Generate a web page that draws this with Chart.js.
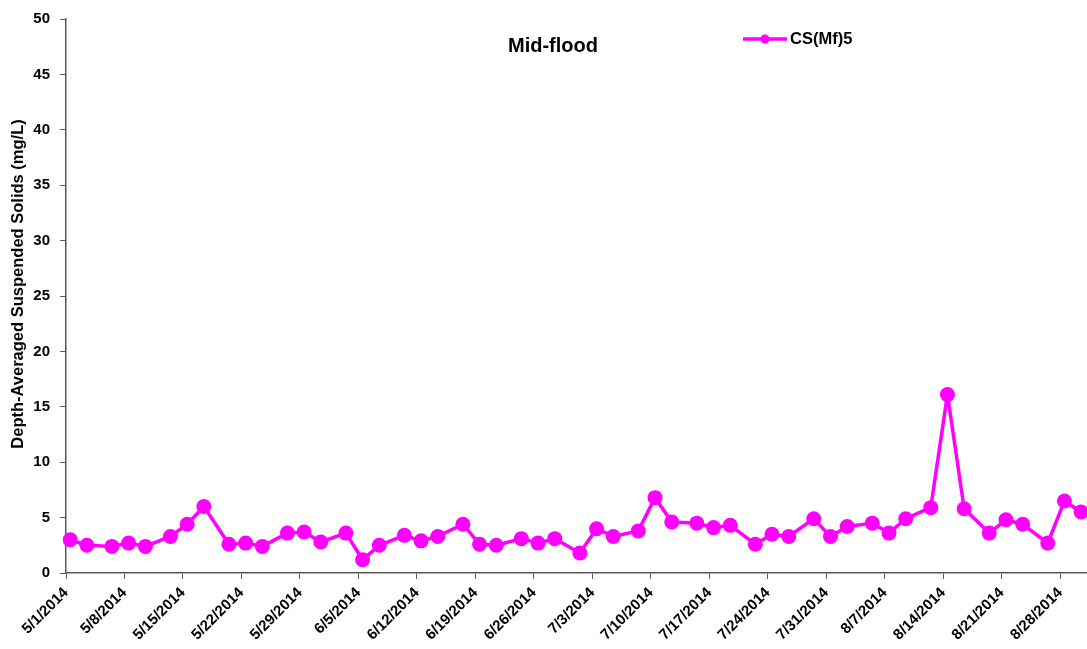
<!DOCTYPE html>
<html lang="en">
<head>
    <meta charset="UTF-8">
    <title>Mid-flood CS(Mf)5</title>
    <script src="https://cdn.jsdelivr.net/npm/chart.js"></script>
    <style>
        html, body { margin: 0; padding: 0; background: #fff; }
        #wrap { width: 1087px; height: 649px; position: relative; }
    </style>
</head>
<body>
<div id="wrap"><canvas id="tssChart"></canvas></div>
<script>
    // sampling dates and depth-averaged TSS (mg/L), station CS(Mf)5, mid-flood
    const sampleDates = [
        '5/1/2014', '5/3/2014', '5/6/2014', '5/8/2014', '5/10/2014', '5/13/2014', '5/15/2014', '5/17/2014',
        '5/20/2014', '5/22/2014', '5/24/2014', '5/27/2014', '5/29/2014', '5/31/2014', '6/3/2014', '6/5/2014',
        '6/7/2014', '6/10/2014', '6/12/2014', '6/14/2014', '6/17/2014', '6/19/2014', '6/21/2014', '6/24/2014',
        '6/26/2014', '6/28/2014', '7/1/2014', '7/3/2014', '7/5/2014', '7/8/2014', '7/10/2014', '7/12/2014',
        '7/15/2014', '7/17/2014', '7/19/2014', '7/22/2014', '7/24/2014', '7/26/2014', '7/29/2014', '7/31/2014',
        '8/2/2014', '8/5/2014', '8/7/2014', '8/9/2014', '8/12/2014', '8/14/2014', '8/16/2014', '8/19/2014',
        '8/21/2014', '8/23/2014', '8/26/2014', '8/28/2014', '8/30/2014'
    ];
    const tssValues = [
        3.0, 2.5, 2.4, 2.7, 2.4, 3.3, 4.4, 6.0,
        2.6, 2.7, 2.4, 3.6, 3.7, 2.8, 3.6, 1.2,
        2.5, 3.4, 2.9, 3.3, 4.4, 2.6, 2.5, 3.1,
        2.7, 3.1, 1.8, 4.0, 3.3, 3.8, 6.8, 4.6,
        4.5, 4.1, 4.3, 2.6, 3.5, 3.3, 4.9, 3.3,
        4.2, 4.5, 3.6, 4.9, 5.9, 16.1, 5.8, 3.6,
        4.8, 4.4, 2.7, 6.5, 5.5
    ];
    const tickDates = [
        '5/1/2014', '5/8/2014', '5/15/2014', '5/22/2014', '5/29/2014', '6/5/2014',
        '6/12/2014', '6/19/2014', '6/26/2014', '7/3/2014', '7/10/2014', '7/17/2014',
        '7/24/2014', '7/31/2014', '8/7/2014', '8/14/2014', '8/21/2014', '8/28/2014'
    ];
    const seriesName = 'CS(Mf)5';
    const chartTitle = 'Mid-flood';
    const yTitle = 'Depth-Averaged Suspended Solids (mg/L)';

    const FONT = 'Arial, "Liberation Sans", sans-serif';
    const MAGENTA = '#FF00FF';
    const startDay = Date.UTC(2014, 4, 1);

    function dayIndex(s) {
        const [m, d, y] = s.split('/').map(Number);
        return (Date.UTC(y, m - 1, d) - startDay) / 86400000;
    }

    // points sit between tick marks like an Excel date axis
    const points = sampleDates.map((d, i) => ({ x: dayIndex(d) + 0.5, y: tssValues[i] }));
    const labelByDay = {};
    tickDates.forEach(d => { labelByDay[dayIndex(d)] = d; });

    const overlay = {
        id: 'overlay',
        afterDraw(chart) {
            const ctx = chart.ctx;
            ctx.save();
            ctx.fillStyle = '#000';
            ctx.font = 'bold 20px ' + FONT;
            ctx.textAlign = 'center';
            ctx.textBaseline = 'middle';
            ctx.fillText(chartTitle, 553, 46);

            // legend
            ctx.strokeStyle = MAGENTA;
            ctx.lineWidth = 3.5;
            ctx.beginPath();
            ctx.moveTo(743, 39);
            ctx.lineTo(787, 39);
            ctx.stroke();
            ctx.fillStyle = MAGENTA;
            ctx.beginPath();
            ctx.arc(765, 39, 4.5, 0, Math.PI * 2);
            ctx.fill();
            ctx.fillStyle = '#000';
            ctx.font = 'bold 16.5px ' + FONT;
            ctx.textAlign = 'left';
            ctx.fillText(seriesName, 790, 39);

            // y-axis title
            ctx.translate(18.5, 284);
            ctx.rotate(-Math.PI / 2);
            ctx.textAlign = 'center';
            ctx.font = 'bold 16.5px ' + FONT;
            ctx.fillText(yTitle, 0, 0);
            ctx.restore();
        }
    };

    const ctx = document.getElementById('tssChart').getContext('2d');
    new Chart(ctx, {
        type: 'line',
        data: {
            datasets: [{
                label: seriesName,
                data: points,
                borderColor: MAGENTA,
                backgroundColor: MAGENTA,
                borderWidth: 3.5,
                borderJoinStyle: 'round',
                pointRadius: 7.5,
                pointHoverRadius: 7.5,
                pointBorderWidth: 0,
                tension: 0,
                clip: false
            }]
        },
        options: {
            responsive: true,
            maintainAspectRatio: false,
            animation: false,
            layout: { autoPadding: false, padding: { top: 19, right: 0, left: 0, bottom: 0 } },
            plugins: {
                legend: { display: false },
                tooltip: { enabled: false }
            },
            scales: {
                x: {
                    type: 'linear',
                    min: 0,
                    max: 122.2,
                    afterBuildTicks: scale => {
                        scale.ticks = tickDates.map(d => ({ value: dayIndex(d) }));
                    },
                    afterFit: scale => {
                        scale.height = 76;
                        scale.paddingLeft = 0;
                        scale.paddingRight = 0;
                    },
                    grid: {
                        display: true,
                        drawOnChartArea: false,
                        drawTicks: true,
                        tickLength: 6,
                        color: '#595959'
                    },
                    border: { display: true, color: '#595959', width: 1.5 },
                    ticks: {
                        autoSkip: false,
                        minRotation: 45,
                        maxRotation: 45,
                        padding: 5,
                        color: '#000',
                        font: { family: FONT, size: 15, weight: 'bold' },
                        callback: v => labelByDay[v] || ''
                    }
                },
                y: {
                    min: 0,
                    max: 50,
                    afterFit: scale => { scale.width = 66; },
                    grid: {
                        display: true,
                        drawOnChartArea: false,
                        drawTicks: true,
                        tickLength: 6,
                        color: '#595959'
                    },
                    border: { display: true, color: '#595959', width: 1.5 },
                    ticks: {
                        stepSize: 5,
                        padding: 10,
                        color: '#000',
                        font: { family: FONT, size: 15, weight: 'bold' }
                    }
                }
            }
        },
        plugins: [overlay]
    });
</script>
</body>
</html>
